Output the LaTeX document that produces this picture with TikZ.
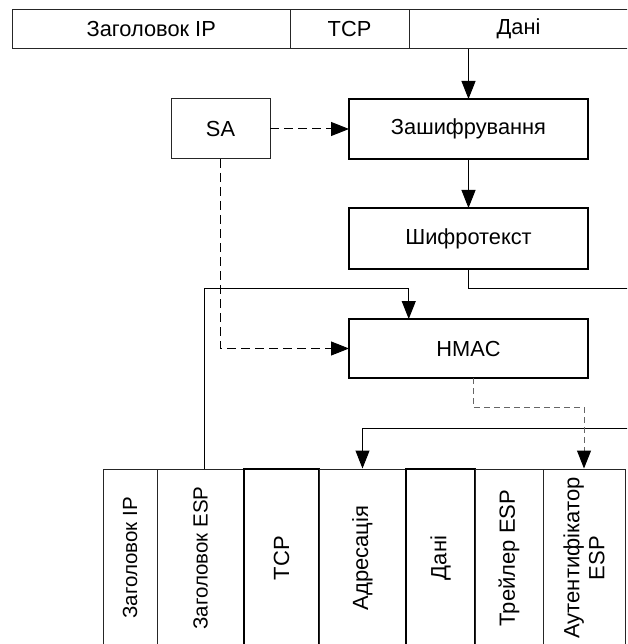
\documentclass[tikz,border=0pt]{standalone}
\usepackage{fontspec}
\usepackage{graphicx}
\setmainfont{Liberation Sans}
\usetikzlibrary{arrows.meta,calc}
\begin{document}
\begin{tikzpicture}[x=1pt,y=-1pt,
  every node/.style={font=\fontsize{21.8}{26}\selectfont, inner sep=0pt, outer sep=0pt},
  thinbox/.style={draw=black!85, line width=1pt},
  mainbox/.style={draw=black, line width=2.3pt, minimum width=239pt},
  colbox/.style={draw=black!85, line width=1pt, rotate=90, minimum width=178pt, align=center,
    font=\fontsize{22}{25}\selectfont},
  boldcol/.style={colbox, draw=black, line width=1.3pt},
  smallcol/.style={font=\fontsize{20.5}{24}\selectfont},
  tip/.style={-{Triangle[length=18pt,width=14pt]}},
  conn/.style={tip, line width=1pt},
  dconn/.style={tip, line width=1pt, dash pattern=on 9pt off 5pt},
  gconn/.style={-{Triangle[length=18pt,width=14pt,color=black]}, line width=1pt, draw=black!60, dash pattern=on 6pt off 4pt}
]
\useasboundingbox (0,0) rectangle (627,644);
\clip (0,0) rectangle (627,644);

% top packet
\node[thinbox, minimum width=277.5pt, minimum height=39.5pt] (ip) at (151.25,29.25) {Заголовок IP};
\node[thinbox, minimum width=119pt, minimum height=39.5pt] (tcp) at (349.5,29.25) {TCP};
\node[thinbox, minimum width=219pt, minimum height=39.5pt] (data) at (518.5,29.25) {Дані};

% processing boxes
\node[thinbox, minimum width=99pt, minimum height=60pt] (sa) at (220.5,129) {SA};
\node[mainbox, minimum height=60pt] (enc) at (468.5,129) {Зашифрування};
\node[mainbox, minimum height=61pt] (cipher) at (468.5,238.5) {Шифротекст};
\node[mainbox, minimum height=59pt] (hmac) at (468.5,348.5) {HMAC};

% bottom packet (rotated columns)
\node[colbox, smallcol, minimum height=54pt] (b1) at (130,558) {Заголовок IP};
\node[colbox, smallcol, minimum height=87pt] (b2) at (200.5,558) {Заголовок ESP};
\node[boldcol, minimum height=75pt] (b3) at (281.5,558) {TCP};
\node[colbox, minimum height=87pt] (b4) at (362.5,558) {Адресація};
\node[boldcol, minimum height=69pt] (b5) at (440.5,558) {Дані};
\node[colbox, minimum height=68pt] (b6) at (509,558) {Трейлер ESP};
\node[colbox, minimum height=82pt] (b7) at (584,558) {Аутентифікатор\\ESP};

% helper coordinates
\coordinate (edgeA) at (640,288);
\coordinate (edgeB) at (640,428);
\coordinate (hq) at ($(hmac.north west)!0.25!(hmac.north east)$);

% connectors
\draw[conn] (data.south -| enc.north) -- (enc.north);
\draw[dconn] (sa.east) -- (enc.west);
\draw[conn] (enc.south) -- (cipher.north);
\draw[dconn] (sa.south) |- (hmac.west);
\draw[line width=1pt] (cipher.south) |- (edgeA);
\draw[conn] (edgeB) -| ([yshift=0.5pt]b4.east);
\draw[conn] ([xshift=3.5pt]b2.east) |- ($(hq)+(0,-31)$) -- (hq);
\draw[gconn] ([xshift=4.5pt]hmac.south) -- ++(0,29) -| ([yshift=0.5pt]b7.east);
\end{tikzpicture}
\end{document}
